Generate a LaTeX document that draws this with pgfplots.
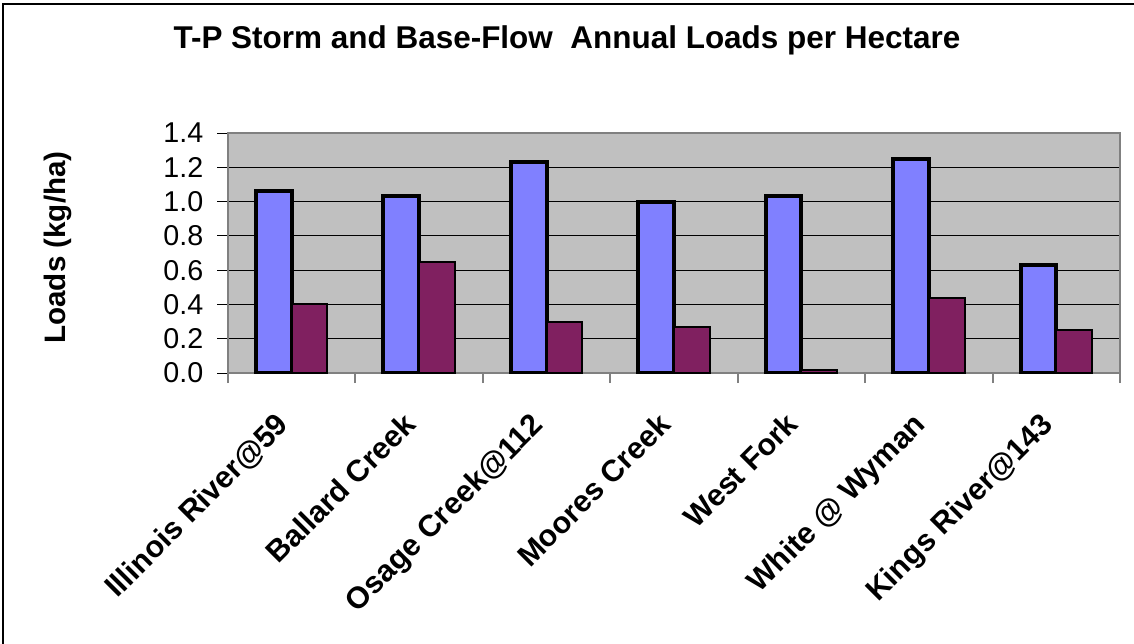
\documentclass[border=0pt]{standalone}
\usepackage{pgfplots}
\pgfplotsset{compat=1.18}
\usepackage{fontspec}
\setmainfont{Liberation Sans}
\definecolor{storm}{RGB}{128,128,255}
\definecolor{basef}{RGB}{128,32,96}
\definecolor{plotbg}{RGB}{192,192,192}
\definecolor{axgray}{RGB}{128,128,128}
\begin{document}
\begin{tikzpicture}
\begin{axis}[
  at={(0,0)}, anchor=south west, scale only axis,
  width=669pt, height=180pt,
  xmin=-0.5, xmax=6.5, ymin=0, ymax=1.4,
  axis background/.style={fill=plotbg},
  axis line style={axgray, line width=1.5pt},
  xtick={0,1,2,3,4,5,6},
  xticklabels={Illinois River@59, Ballard Creek, Osage Creek@112, Moores Creek, West Fork, White @ Wyman, Kings River@143},
  minor xtick={-0.5,0.5,1.5,2.5,3.5,4.5,5.5,6.5},
  ytick={0,0.2,0.4,0.6,0.8,1.0,1.2,1.4},
  xtick pos=lower, ytick pos=left,
  tick align=outside,
  major tick length=8pt,
  minor tick length=7.5pt,
  major x tick style={draw=none},
  minor x tick style={axgray, line width=1.5pt},
  ytick style={black, line width=0.75pt},
  ymajorgrids,
  major grid style={black, line width=0.75pt},
  yticklabel style={font=\fontsize{21.5}{24}\selectfont, xshift=-7pt,
    /pgf/number format/fixed, /pgf/number format/fixed zerofill,
    /pgf/number format/precision=1, /pgf/number format/assume math mode=true},
  xticklabel style={xshift=-13pt, yshift=-20pt, font=\bfseries\fontsize{22.8}{26}\selectfont, rotate=45, anchor=north east, inner sep=0pt},
  ylabel={Loads (kg/ha)},
  ylabel style={at={(axis description cs:-0.1906,0.523)}, anchor=center, font=\bfseries\fontsize{22.2}{26}\selectfont},
  title={T-P Storm and Base-Flow\ \ Annual Loads per Hectare},
  title style={at={(axis description cs:0.380,1.3167)}, anchor=base, font=\bfseries\fontsize{23.6}{28}\selectfont},
]
\addplot[ybar, bar width=0.28, bar shift=-0.14, fill=storm, draw=black, line width=3pt]
  coordinates {(0,1.06) (1,1.03) (2,1.23) (3,1.00) (4,1.03) (5,1.25) (6,0.63)};
\addplot[ybar, bar width=0.28, bar shift=0.14, fill=basef, draw=black, line width=1.5pt]
  coordinates {(0,0.40) (1,0.65) (2,0.30) (3,0.27) (4,0.02) (5,0.44) (6,0.25)};
\end{axis}
\draw[line width=1.5pt] (-168.75pt,-230pt) -- (-168.75pt,276.75pt) -- (700pt,276.75pt);
\pgfresetboundingbox
\useasboundingbox (-171pt,-202.5pt) rectangle (679.5pt,279.75pt);
\end{tikzpicture}
\end{document}
